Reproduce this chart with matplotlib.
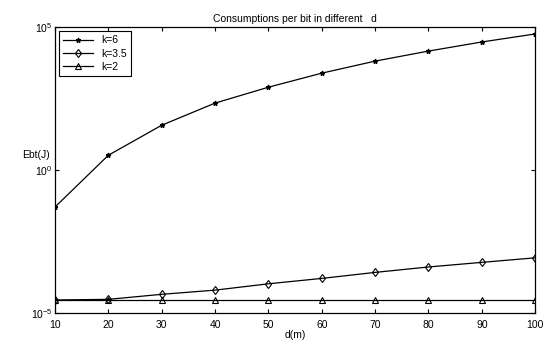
import numpy as np
import matplotlib
matplotlib.use("Agg")
import matplotlib.pyplot as plt
from matplotlib.ticker import FixedLocator, NullLocator

# distancias e consumo por bit
d = [10, 20, 30, 40, 50, 60, 70, 80, 90, 100]
ebt_k6 = [0.051, 3.3, 37, 220, 790, 2450, 6460, 14500, 30200, 57500]
ebt_k35 = [2.85e-5, 3.0e-5, 4.5e-5, 6.3e-5, 1.05e-4, 1.62e-4, 2.63e-4, 4.07e-4, 5.9e-4, 8.5e-4]
ebt_k2 = [2.85e-5] * 10
labels = ["k=6", "k=3.5", "k=2"]

plt.rcParams['font.family'] = ['Liberation Sans', 'DejaVu Sans']
plt.rcParams['font.size'] = 7.5

fig = plt.figure(figsize=(5.45, 3.43), dpi=100)
ax = fig.add_axes([0.101, 0.0875, 0.881, 0.8335])

ax.plot(d, ebt_k6, color='k', lw=0.9, marker='*', ms=3.5, label=labels[0])
ax.plot(d, ebt_k35, color='k', lw=0.9, marker='d', ms=4.5, mfc='none', mew=0.8, label=labels[1])
ax.plot(d, ebt_k2, color='k', lw=0.9, marker='^', ms=4.5, mfc='none', mew=0.8, label=labels[2])

ax.set_yscale('log')
ax.set_xlim(10, 100)
ax.set_ylim(1e-5, 1e5)
ax.set_xticks(d)
ax.yaxis.set_major_locator(FixedLocator([1e-5, 1e0, 1e5]))
ax.yaxis.set_minor_locator(NullLocator())
ax.tick_params(direction='in', top=True, right=True, length=3, width=0.8)
ax.tick_params(axis='x', pad=5)
ax.tick_params(axis='y', pad=2)
for s in ax.spines.values():
    s.set_linewidth(0.9)

ax.set_title("Consumptions per bit in different   d", fontsize=7.5, pad=4)
ax.set_xlabel("d(m)", labelpad=0)
fig.text(22 / 545, 1 - 155 / 343, "Ebt(J)", fontsize=7.5, va='center', ha='left')

leg = ax.legend(loc='upper left', fancybox=False, edgecolor='k', framealpha=1,
                borderaxespad=0.4, handlelength=2.8, labelspacing=0.3, fontsize=7.5)
leg.get_frame().set_linewidth(0.8)

fig.savefig("out.png", dpi=100)
